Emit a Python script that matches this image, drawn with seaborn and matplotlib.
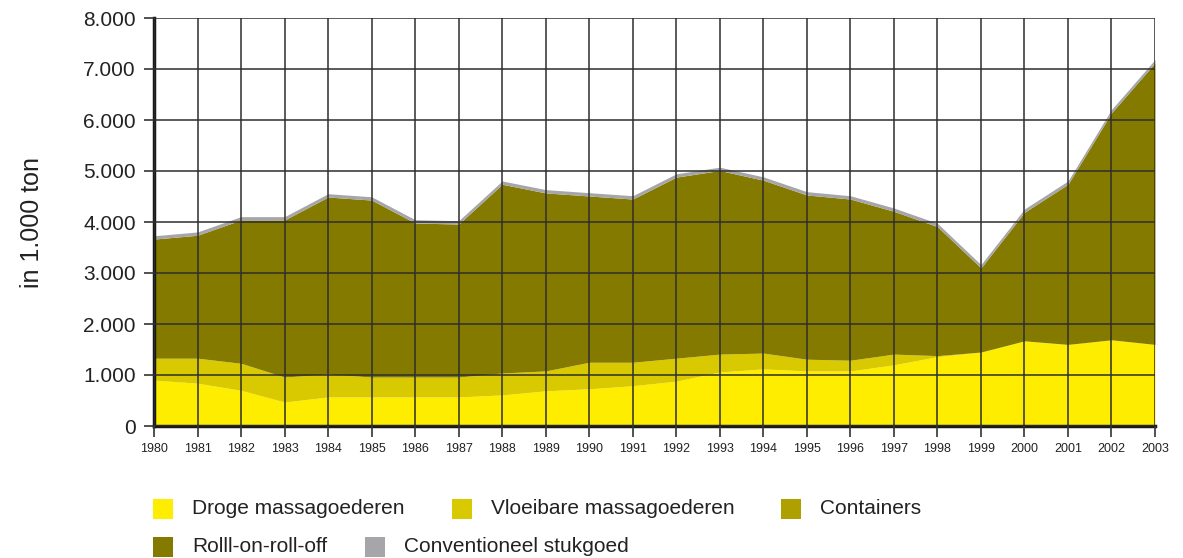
import matplotlib.pyplot as plt
from matplotlib.patches import Rectangle
from matplotlib.ticker import FuncFormatter
import seaborn as sns
import pandas as pd

years = list(range(1980, 2004))

# values in 1.000 ton
droge = [900, 840, 700, 470, 570, 570, 570, 570, 610, 690, 730, 790,
         880, 1060, 1120, 1080, 1080, 1200, 1360, 1450, 1670, 1600, 1690, 1600]
vloeibaar = [430, 490, 530, 490, 450, 390, 390, 390, 430, 390, 520, 460,
             450, 350, 310, 230, 210, 210, 20, 0, 0, 0, 0, 0]
containers = [0] * 24
roro = [2335, 2410, 2810, 3080, 3470, 3470, 3020, 3000, 3700, 3490, 3260, 3200,
        3550, 3600, 3390, 3220, 3160, 2800, 2530, 1650, 2520, 3140, 4450, 5520]
conventioneel = [65] * 24

labels = ['Droge massagoederen', 'Vloeibare massagoederen', 'Containers',
          'Rolll-on-roll-off', 'Conventioneel stukgoed']
colors = ['#FFED00', '#D9C900', '#ADA000', '#847A00', '#A6A6AA']

df = pd.DataFrame({'jaar': years, labels[0]: droge, labels[1]: vloeibaar,
                   labels[2]: containers, labels[3]: roro, labels[4]: conventioneel})

sns.set_style('white')
plt.rcParams['font.family'] = ['Liberation Sans', 'DejaVu Sans']
palette = sns.color_palette(colors)

fig = plt.figure(figsize=(11.83, 5.58), dpi=100)
ax = fig.add_axes([154 / 1183, 1 - 426 / 558, 1001 / 1183, 408 / 558])

ax.stackplot(df['jaar'], [df[l] for l in labels], colors=palette, linewidth=0)

ax.set_xlim(1980, 2003)
ax.set_ylim(0, 8000)
ax.set_xticks(years)
ax.set_yticks(range(0, 8001, 1000))
ax.yaxis.set_major_formatter(FuncFormatter(lambda v, p: f'{int(v):,}'.replace(',', '.')))

ax.set_axisbelow(False)
ax.grid(True, color='#2e2e2e', linewidth=1.1)
ax.tick_params(axis='y', length=7, width=1.2, color='#333333', labelsize=15,
               pad=6, left=True, labelcolor='#222222')
ax.tick_params(axis='x', length=8, width=1.2, color='#333333', labelsize=9,
               pad=4, bottom=True, labelcolor='#222222')

for s in ['top', 'right']:
    ax.spines[s].set_visible(False)
ax.spines['left'].set_linewidth(2.5)
ax.spines['left'].set_color('#1a1a1a')
ax.spines['bottom'].set_linewidth(2.5)
ax.spines['bottom'].set_color('#1a1a1a')

ax.set_ylabel('in 1.000 ton', fontsize=18, color='#222222')
ax.yaxis.set_label_coords(-0.11, 0.5)

# legend laid out as in the original: three entries, then two
legend_pos = [(153, 509), (452, 509), (781, 509), (153, 547), (365, 547)]
for (x, y), lab, col in zip(legend_pos, labels, palette):
    fig.add_artist(Rectangle((x / 1183, 1 - (y + 10) / 558), 20 / 1183, 20 / 558,
                             transform=fig.transFigure, color=col, linewidth=0))
    fig.text((x + 39) / 1183, 1 - y / 558, lab, fontsize=15, color='#222222',
             va='center', ha='left')

fig.savefig('out.png', dpi=100)
